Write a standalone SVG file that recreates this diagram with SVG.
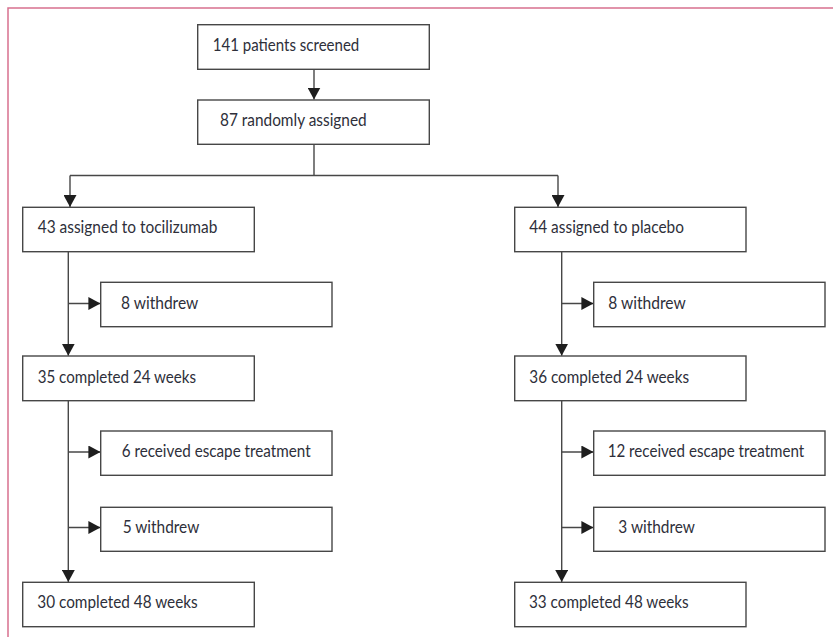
<svg xmlns="http://www.w3.org/2000/svg" width="833" height="637" viewBox="0 0 833 637">
<style>
.box{fill:#fff;stroke:#474747;stroke-width:1.4}
.t{font-family:Lato,"Open Sans","Liberation Sans",sans-serif;font-size:16.5px;fill:#2e2f3a}
.c{fill:none;stroke:#474747;stroke-width:1.4}
.a{marker-end:url(#ah)}
.frame{stroke:#d7708f;stroke-width:1.5;fill:none}
</style>
<defs>
<marker id="ah" markerUnits="userSpaceOnUse" markerWidth="12" markerHeight="13" refX="12" refY="6.5" orient="auto">
<path d="M0,0 L12,6.5 L0,13 Z" fill="#1e1e1e"/>
</marker>
</defs>
<path class="frame" d="M8,637 L8,8 L833,8"/>
<g id="connectors">
<line class="c a" x1="314" y1="69.3" x2="314" y2="99.5"/>
<polyline class="c" points="314,144.3 314,175.5"/>
<polyline class="c" points="70,175.5 558,175.5"/>
<line class="c a" x1="70" y1="175.5" x2="70" y2="207"/>
<line class="c a" x1="558" y1="175.5" x2="558" y2="207"/>
<line class="c a" x1="68.3" y1="251.7" x2="68.3" y2="355.7"/>
<line class="c a" x1="68.3" y1="303.5" x2="100.4" y2="303.5"/>
<line class="c a" x1="68.3" y1="400.7" x2="68.3" y2="582"/>
<line class="c a" x1="68.3" y1="452" x2="100.4" y2="452"/>
<line class="c a" x1="68.3" y1="527.5" x2="100.4" y2="527.5"/>
<line class="c a" x1="561.7" y1="251.7" x2="561.7" y2="355.7"/>
<line class="c a" x1="561.7" y1="303.5" x2="593.4" y2="303.5"/>
<line class="c a" x1="561.7" y1="400.7" x2="561.7" y2="582"/>
<line class="c a" x1="561.7" y1="452" x2="593.4" y2="452"/>
<line class="c a" x1="561.7" y1="527.5" x2="593.4" y2="527.5"/>
</g>
<g id="screened"><rect class="box" x="197.7" y="24.7" width="231.6" height="44.6"/><text class="t" x="212.7" y="50.7" textLength="146.6" lengthAdjust="spacingAndGlyphs">141 patients screened</text></g>
<g id="randomised"><rect class="box" x="197.7" y="100" width="231.6" height="44.3"/><text class="t" x="220" y="125.8" textLength="146.7" lengthAdjust="spacingAndGlyphs">87 randomly assigned</text></g>
<g id="toci"><rect class="box" x="22.7" y="207.3" width="231.6" height="44.4"/><text class="t" x="37.7" y="233.3" textLength="179.6" lengthAdjust="spacingAndGlyphs">43 assigned to tocilizumab</text></g>
<g id="placebo"><rect class="box" x="514.7" y="207.3" width="231.3" height="44.4"/><text class="t" x="529.3" y="233.3" textLength="154.7" lengthAdjust="spacingAndGlyphs">44 assigned to placebo</text></g>
<g id="toci-w1"><rect class="box" x="100.7" y="282.3" width="231.3" height="44.4"/><text class="t" x="121" y="309.3" textLength="77.3" lengthAdjust="spacingAndGlyphs">8 withdrew</text></g>
<g id="placebo-w1"><rect class="box" x="593.7" y="282.3" width="231.3" height="44.4"/><text class="t" x="608.3" y="309.3" textLength="77.4" lengthAdjust="spacingAndGlyphs">8 withdrew</text></g>
<g id="toci-24"><rect class="box" x="22.7" y="356" width="231.6" height="44.7"/><text class="t" x="37.7" y="383.3" textLength="158.3" lengthAdjust="spacingAndGlyphs">35 completed 24 weeks</text></g>
<g id="placebo-24"><rect class="box" x="514.7" y="356" width="231.3" height="44.7"/><text class="t" x="529.3" y="383.3" textLength="159.7" lengthAdjust="spacingAndGlyphs">36 completed 24 weeks</text></g>
<g id="toci-escape"><rect class="box" x="100.7" y="431" width="231.3" height="44.3"/><text class="t" x="121.7" y="457.3" textLength="189" lengthAdjust="spacingAndGlyphs">6 received escape treatment</text></g>
<g id="placebo-escape"><rect class="box" x="593.7" y="431" width="231.3" height="44.3"/><text class="t" x="607.7" y="457.3" textLength="196.6" lengthAdjust="spacingAndGlyphs">12 received escape treatment</text></g>
<g id="toci-w2"><rect class="box" x="100.7" y="507.3" width="231.3" height="44"/><text class="t" x="122.7" y="533.3" textLength="76.6" lengthAdjust="spacingAndGlyphs">5 withdrew</text></g>
<g id="placebo-w2"><rect class="box" x="593.7" y="507.3" width="231.3" height="44"/><text class="t" x="618.3" y="533.3" textLength="76.7" lengthAdjust="spacingAndGlyphs">3 withdrew</text></g>
<g id="toci-48"><rect class="box" x="22.7" y="582.3" width="231.6" height="44.4"/><text class="t" x="37.3" y="607.7" textLength="160.4" lengthAdjust="spacingAndGlyphs">30 completed 48 weeks</text></g>
<g id="placebo-48"><rect class="box" x="514.7" y="582.3" width="231.3" height="44.4"/><text class="t" x="529" y="607.7" textLength="159.7" lengthAdjust="spacingAndGlyphs">33 completed 48 weeks</text></g>
</svg>
